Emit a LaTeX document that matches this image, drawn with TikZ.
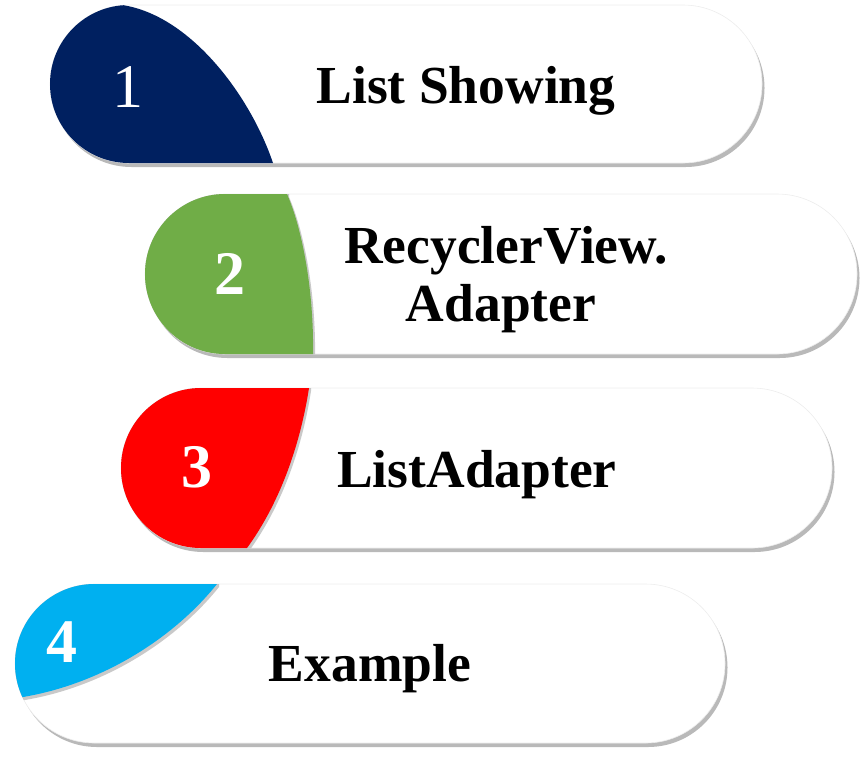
\documentclass[tikz,border=0pt]{standalone}
\usepackage{fontspec}
\setmainfont{Liberation Serif}
\usetikzlibrary{shadows}
\definecolor{navy}{RGB}{0,32,96}
\definecolor{lgreen}{RGB}{112,173,71}
\definecolor{lred}{RGB}{255,0,0}
\definecolor{lcyan}{RGB}{0,176,240}
\tikzset{
  pill/.style={fill=white, draw=black!7, line width=0.6pt,
    drop shadow={shadow xshift=2.5pt, shadow yshift=-4pt, opacity=0.5, fill=black!55}},
  leafshade/.style={drop shadow={shadow xshift=2pt, shadow yshift=-3pt, opacity=0.35, fill=black!60}},
  label/.style={font=\fontsize{53.5}{58}\selectfont\bfseries, text=black, inner sep=0pt, anchor=base},
  numreg/.style={font=\fontsize{62}{62}\selectfont, text=white, inner sep=0pt},
  numbold/.style={font=\fontsize{62}{62}\selectfont\bfseries, text=white, inner sep=0pt}
}
\begin{document}
\begin{tikzpicture}[x=1pt,y=-1pt]
\useasboundingbox (0,0) rectangle (866,761);
% pill 1
\draw[pill, rounded corners=79pt] (50,5) rectangle (762,163);
\begin{scope}
  \clip[rounded corners=79pt] (50,5) rectangle (762,163);
  \fill[navy] (0,5) -- (122,5) .. controls (190,15) and (250,95) .. (273,163) -- (0,163) -- cycle;
\end{scope}
% pill 2
\draw[pill, rounded corners=80pt] (145,194) rectangle (857,354);
\begin{scope}
  \clip[rounded corners=80pt] (145,194) rectangle (857,354);
  \fill[lgreen, leafshade] (0,190) -- (287,190) -- (287,194) .. controls (302,228) and (314,290) .. (313,354) -- (313,360) -- (0,360) -- cycle;
\end{scope}
% pill 3
\draw[pill, rounded corners=80pt] (121,388) rectangle (832,548);
\begin{scope}
  \clip[rounded corners=80pt] (121,388) rectangle (832,548);
  \fill[lred, leafshade] (0,384) -- (309,384) -- (309,388) .. controls (301,440) and (282,500) .. (247,548) -- (247,552) -- (0,552) -- cycle;
\end{scope}
% pill 4
\draw[pill, rounded corners=79.5pt] (15,584) rectangle (725,743);
\begin{scope}
  \clip[rounded corners=79.5pt] (15,584) rectangle (725,743);
  \fill[lcyan, leafshade] (0,580) -- (217,580) -- (217,584) .. controls (172,640) and (100,684) .. (23,697) -- (0,701) -- cycle;
\end{scope}
% numbers
\node[numreg] (n1) at (128,87) {1};
\node[numbold] (n2) at (230,274) {2};
\node[numbold] (n3) at (197,467) {3};
\node[numbold] (n4) at (62,642) {4};
% labels
\node[label] (t1) at (466,103) {List Showing};
\node[label] (t2a) at (506,263) {RecyclerView.};
\node[label] (t2b) at (501,321) {Adapter};
\node[label] (t3) at (477,487) {ListAdapter};
\node[label] (t4) at (370,681) {Example};
\end{tikzpicture}
\end{document}
